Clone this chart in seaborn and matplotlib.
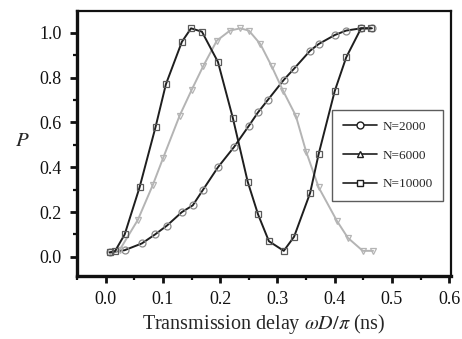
import pandas as pd
import matplotlib
matplotlib.use("Agg")
import matplotlib.pyplot as plt
import seaborn as sns
from matplotlib.lines import Line2D
from matplotlib.ticker import MultipleLocator

# values
x_2000 = [0.007, 0.033, 0.063, 0.086, 0.107, 0.133, 0.152, 0.170, 0.196, 0.224,
          0.250, 0.266, 0.283, 0.311, 0.329, 0.357, 0.372, 0.400, 0.420, 0.446, 0.465]
p_2000 = [0.02, 0.03, 0.06, 0.10, 0.14, 0.20, 0.23, 0.30, 0.40, 0.49,
          0.585, 0.645, 0.70, 0.79, 0.84, 0.92, 0.95, 0.99, 1.01, 1.02, 1.02]

x_6000 = [0.007, 0.024, 0.056, 0.082, 0.100, 0.129, 0.150, 0.170, 0.194, 0.217,
          0.235, 0.250, 0.270, 0.290, 0.310, 0.332, 0.350, 0.372, 0.404, 0.423, 0.449, 0.467]
p_6000 = [0.02, 0.03, 0.165, 0.32, 0.44, 0.63, 0.745, 0.85, 0.965, 1.01,
          1.02, 1.01, 0.95, 0.85, 0.74, 0.63, 0.47, 0.31, 0.16, 0.085, 0.027, 0.027]

x_10000 = [0.007, 0.016, 0.033, 0.059, 0.087, 0.105, 0.133, 0.149, 0.168, 0.196,
           0.222, 0.248, 0.266, 0.285, 0.311, 0.329, 0.357, 0.372, 0.400, 0.420, 0.446, 0.463]
p_10000 = [0.02, 0.025, 0.10, 0.31, 0.58, 0.77, 0.96, 1.02, 1.005, 0.87,
           0.62, 0.335, 0.19, 0.07, 0.027, 0.09, 0.285, 0.46, 0.74, 0.89, 1.02, 1.02]

labels = ['N=2000', 'N=6000', 'N=10000']

sns.set_style('ticks')
plt.rcParams['font.family'] = ['Liberation Serif', 'DejaVu Serif']
plt.rcParams['mathtext.fontset'] = 'stix'

fig = plt.figure(figsize=(4.62, 3.39), dpi=100)
ax = fig.add_axes([0.167, 0.186, 0.809, 0.782])

series = [
    (x_2000, p_2000, 'o', '#1e1e1e', '#8a8a8a'),
    (x_6000, p_6000, 'v', '#b4b4b4', '#b4b4b4'),
    (x_10000, p_10000, 's', '#1e1e1e', '#5a5a5a'),
]
for xs, ps, mk, lc, mc in series:
    df = pd.DataFrame({'x': xs, 'P': ps})
    sns.lineplot(data=df, x='x', y='P', ax=ax, color=lc, linewidth=1.4,
                 marker=mk, markersize=5, markerfacecolor='none',
                 markeredgecolor=mc, markeredgewidth=0.9, sort=False)

ax.set_xlim(-0.05, 0.603)
ax.set_ylim(-0.085, 1.098)
ax.xaxis.set_minor_locator(MultipleLocator(0.05))
ax.yaxis.set_minor_locator(MultipleLocator(0.1))
ax.set_xticks([0.0, 0.1, 0.2, 0.3, 0.4, 0.5, 0.6])
ax.set_xticklabels(['0.0', '0.1', '0.2', '0.3', '0.4', '0.5', '0.6'])
ax.set_yticks([0.0, 0.2, 0.4, 0.6, 0.8, 1.0])
ax.set_yticklabels(['0.0', '0.2', '0.4', '0.6', '0.8', '1.0'])
ax.tick_params(which='major', direction='out', length=5, width=2, labelsize=13,
               colors='#111111', pad=6)
ax.tick_params(which='minor', direction='out', length=3, width=1.6, colors='#111111')

for side in ['left', 'bottom']:
    ax.spines[side].set_linewidth(2.4)
for side in ['top', 'right']:
    ax.spines[side].set_linewidth(1.6)
for sp in ax.spines.values():
    sp.set_color('#111111')

ax.set_xlabel(r'Transmission delay $\omega D/\pi$ (ns)', fontsize=14.5, labelpad=3)
ax.set_ylabel('$P$', fontsize=15, rotation=0)
ax.yaxis.set_label_coords(-0.147, 0.47)

handles = [
    Line2D([0], [0], color='#1e1e1e', lw=1.2, marker='o', ms=5, mfc='white', mec='#1e1e1e'),
    Line2D([0], [0], color='#1e1e1e', lw=1.2, marker='^', ms=5, mfc='white', mec='#1e1e1e'),
    Line2D([0], [0], color='#1e1e1e', lw=1.2, marker='s', ms=5, mfc='white', mec='#1e1e1e'),
]
leg = ax.legend(handles, labels, loc='upper left', bbox_to_anchor=(0.682, 0.626),
                fontsize=9.5, frameon=True, fancybox=False, edgecolor='#333333',
                handlelength=2.6, labelspacing=1.25, borderpad=0.8, handletextpad=0.4,
                borderaxespad=0)
leg.get_frame().set_linewidth(1.0)

fig.savefig('out.png', dpi=100)
